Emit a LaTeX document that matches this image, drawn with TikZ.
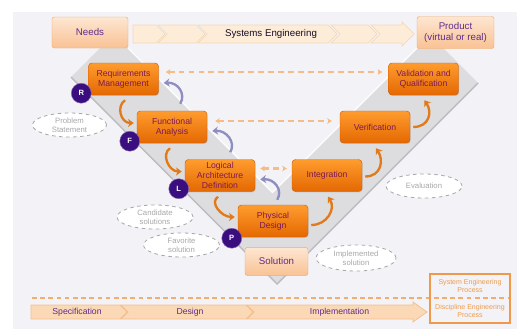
\documentclass[tikz,border=0pt]{standalone}
\usepackage{fontspec}
\setmainfont{Liberation Sans}
\usetikzlibrary{
  shapes.geometric,
  arrows.meta, positioning,
  calc, shadows
}
\definecolor{bgpanel}{RGB}{243,243,247}
\definecolor{vband}{RGB}{221,221,223}
\definecolor{vedge}{RGB}{188,188,192}
\definecolor{procTop}{RGB}{255,156,46}
\definecolor{procBot}{RGB}{228,104,2}
\definecolor{procLine}{RGB}{208,94,8}
\definecolor{procText}{RGB}{125,26,82}
\definecolor{peachTop}{RGB}{253,230,210}
\definecolor{peachBot}{RGB}{249,194,148}
\definecolor{peachLine}{RGB}{242,170,110}
\definecolor{chevFill}{RGB}{253,237,216}
\definecolor{chevLine}{RGB}{243,216,184}
\definecolor{chevFillB}{RGB}{251,216,182}
\definecolor{chevLineB}{RGB}{243,190,140}
\definecolor{darkpurple}{RGB}{94,44,138}
\definecolor{ltrFill}{RGB}{58,14,126}
\definecolor{arcOrange}{RGB}{224,122,26}
\definecolor{arcLav}{RGB}{142,142,192}
\definecolor{dashOrange}{RGB}{246,188,136}
\definecolor{noteGray}{RGB}{168,168,170}
\definecolor{keyOrange}{RGB}{238,154,74}
\tikzset{
  proc/.style={rectangle, rounded corners=3pt, draw=procLine,
    top color=procTop, bottom color=procBot,
    minimum width=2.1cm, minimum height=0.96cm, inner sep=1pt,
    align=center, text=procText, font=\fontsize{7.4}{8.8}\selectfont,
    drop shadow={shadow xshift=0.6pt, shadow yshift=-0.8pt, opacity=0.25}},
  endb/.style={rectangle, rounded corners=2pt, draw=peachLine,
    top color=peachTop, bottom color=peachBot,
    minimum width=2.28cm, minimum height=0.93cm, inner sep=1pt,
    align=center, text=darkpurple, font=\fontsize{8.3}{10}\selectfont},
  ltr/.style={circle, fill=ltrFill, draw=ltrFill!60!white, thin,
    minimum size=0.6cm, inner sep=0pt, text=white,
    font=\fontsize{6.5}{7}\selectfont\bfseries},
  note/.style={ellipse, draw=noteGray, dashed, fill=white, line width=0.7pt,
    minimum width=2.25cm, minimum height=0.72cm, inner sep=0pt,
    align=center, text=noteGray, font=\fontsize{6.6}{7.6}\selectfont},
  chev/.style={fill=chevFill, draw=chevLine, line width=0.6pt},
  chevB/.style={fill=chevFillB, draw=chevLineB, line width=0.6pt},
  lbl/.style={text=darkpurple, font=\fontsize{7.4}{8.8}\selectfont},
  keyt/.style={text=keyOrange, align=center, font=\fontsize{6}{6.8}\selectfont},
  arrO/.style={-{Stealth[length=5pt,width=7pt]}, line width=2pt, draw=arcOrange},
  arrL/.style={-{Stealth[length=5pt,width=7pt]}, line width=2pt, draw=arcLav},
  arrD/.style={{Stealth[length=4pt,width=5pt]}-{Stealth[length=4pt,width=5pt]},
    line width=1.8pt, draw=dashOrange, dash pattern=on 5pt off 3.5pt},
}
\begin{document}
\begin{tikzpicture}[x=0.03cm, y=-0.03cm]
  \useasboundingbox (0,0) rectangle (517,329);
  \fill[bgpanel] (13,12) rectangle (517,329);

  % ---- V band ----
  \fill[vband] (71,77) -- (100,48) -- (128,48) -- (272.5,192.5) -- (417,48)
    -- (443,48) -- (478,83) -- (277,284) -- cycle;
  \draw[vedge, line width=1.2pt] (71,77) -- (277,284) -- (478,83);
  \draw[white, line width=1pt] (128,48) -- (272.5,192.5) -- (417,48);

  % ---- Top row ----
  \fill[chev] (133,25) -- (156,25) -- (165,34) -- (156,43) -- (133,43) -- cycle;
  \fill[chev] (158,25) -- (196,25) -- (205,34) -- (196,43) -- (158,43) -- (167,34) -- cycle;
  \fill[chev] (198,25) -- (328,25) -- (337,34) -- (328,43) -- (198,43) -- (207,34) -- cycle;
  \fill[chev] (331,25) -- (368,25) -- (377,34) -- (368,43) -- (331,43) -- (340,34) -- cycle;
  \fill[chev] (371,25) -- (402,25) -- (402,22) -- (414,34) -- (402,46) -- (402,43)
    -- (371,43) -- (380,34) -- cycle;
  \node[lbl, text=black!75!darkpurple, font=\fontsize{8.3}{10}\selectfont] (se) at (271,34) {Systems Engineering};

  \node[endb] (needs) at (90,32.5) {Needs};
  \node[endb, minimum width=2.31cm, minimum height=0.96cm] (prod) at (455.5,32.5)
       {Product\\(virtual or real)};

  % ---- Left branch ----
  \node[proc] (req) at (123.5,79)  {Requirements\\Management};
  \node[proc] (fa)  at (172,127)   {Functional\\Analysis};
  \node[proc] (lad) at (220,175.5) {Logical\\Architecture\\Definition};
  \node[proc] (pd)  at (273,221)   {Physical\\Design};

  % ---- Right branch ----
  \node[proc] (int) at (327,175.5) {Integration};
  \node[proc] (ver) at (375,127)   {Verification};
  \node[proc] (vq)  at (423.5,79)  {Validation and\\Qualification};

  \node[endb, minimum width=1.89cm, minimum height=0.84cm,
        below=0.3cm of pd.south east, anchor=north east] (sol) {Solution};

  % ---- Letters ----
  \node[ltr] (r) at ($(req.south west)+(-7,-2)$) {R};
  \node[ltr] (f) at ($(fa.south west)+(-7,-2)$)  {F};
  \node[ltr] (l) at ($(lad.south west)+(-6,-3)$) {L};
  \node[ltr] (p) at ($(pd.south west)+(-6,1)$)   {P};

  % ---- Notes ----
  \node[note, minimum width=2.22cm] (ps)  at (69.5,125) {Problem\\Statement};
  \node[note, minimum width=2.28cm] (cs)  at (155,217)  {Candidate\\solutions};
  \node[note, minimum width=2.28cm] (fs)  at (181.5,245) {Favorite\\solution};
  \node[note, minimum width=2.4cm, minimum height=0.78cm] (is) at (356,258) {Implemented\\solution};
  \node[note, minimum width=2.28cm] (ev)  at (424,186)  {Evaluation};

  % ---- Arrows ----
  \draw[arrD] ($(req.east)+(7,-7)$) -- ($(vq.west)+(-6,-7)$);
  \draw[arrD] ($(fa.east)+(8,-6)$)  -- ($(ver.west)+(-8,-6)$);
  \draw[arrD] ($(lad.east)+(5,-7)$) -- ($(int.west)+(-5,-7)$);

  \draw[arrO] ($(req.south)+(1.5,5)$) .. controls +(-9,6) and +(-13,0) .. ($(fa.west)+(-3,-4)$);
  \draw[arrO] ($(fa.south)+(-2,5)$)   .. controls +(-9,6) and +(-13,0) .. ($(lad.west)+(-3,-4)$);
  \draw[arrO] ($(lad.south)+(-2,5)$)  .. controls +(-9,6) and +(-13,0) .. ($(pd.west)+(-3,-4)$);

  \draw[arrO] ($(pd.east)+(3,4)$)  .. controls +(16,0) and +(8,12) .. ($(int.south)+(1,5)$);
  \draw[arrO] ($(int.east)+(3,1)$) .. controls +(16,0) and +(8,12) .. ($(ver.south)+(1,5)$);
  \draw[arrO] ($(ver.east)+(3,0)$) .. controls +(16,0) and +(8,12) .. ($(vq.south)+(1,5)$);

  \draw[arrL] ($(fa.north east)+(-27,-7)$)  .. controls +(6,-10) and +(14,-1) .. ($(req.east)+(5,4)$);
  \draw[arrL] ($(lad.north east)+(-25,-7)$) .. controls +(6,-10) and +(14,-1) .. ($(fa.east)+(5,4)$);
  \draw[arrL] ($(pd.north east)+(-31,-5)$)  .. controls +(6,-10) and +(14,-1) .. ($(lad.east)+(5,4)$);

  % ---- Bottom key ----
  \draw[keyOrange!80!white, line width=0.9pt, dash pattern=on 4pt off 3pt] (32,298) -- (510,298);
  \node[draw=keyOrange, line width=0.9pt, minimum width=2.4cm, minimum height=1.47cm] (key) at (470,298.5) {};
  \node[keyt] (sep) at (470,286) {System Engineering\\Process};
  \node[keyt] (dep) at (470,311) {Discipline Engineering\\Process};

  \fill[chevB] (31,305) -- (120,305) -- (127,312) -- (120,319) -- (31,319) -- cycle;
  \fill[chevB] (121,305) -- (246,305) -- (253,312) -- (246,319) -- (121,319) -- (128,312) -- cycle;
  \fill[chevB] (247,305) -- (413,305) -- (413,302) -- (427,312) -- (413,322) -- (413,319)
    -- (247,319) -- (254,312) -- cycle;
  \node[lbl] (spec) at (77,312)    {Specification};
  \node[lbl] (des)  at (190,312)   {Design};
  \node[lbl] (impl) at (339.5,312) {Implementation};
\end{tikzpicture}
\end{document}
